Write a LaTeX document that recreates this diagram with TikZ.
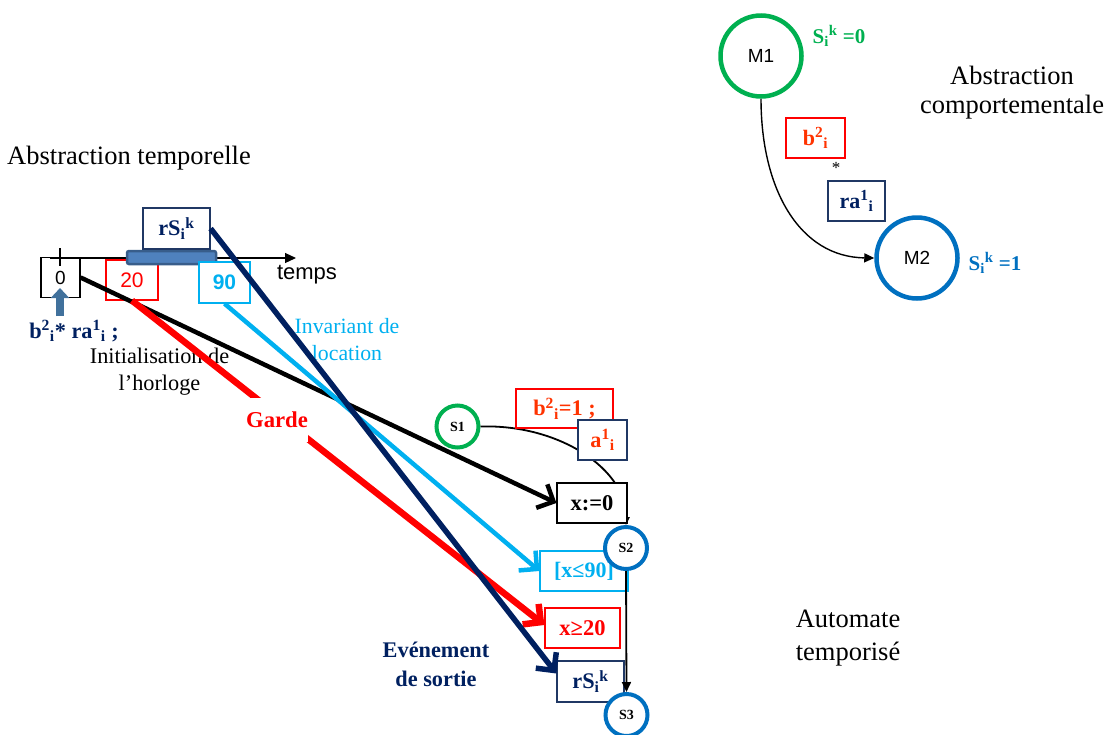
\documentclass[tikz,border=0pt]{standalone}
\usepackage{fontspec}
\setmainfont{Liberation Serif}
\setsansfont{Liberation Sans}
\usetikzlibrary{arrows.meta}
\definecolor{myred}{HTML}{FF0000}
\definecolor{orred}{HTML}{FF3300}
\definecolor{navy}{HTML}{002060}
\definecolor{boxnavy}{HTML}{203864}
\definecolor{lblue}{HTML}{00B0F0}
\definecolor{mygreen}{HTML}{00B050}
\definecolor{cblue}{HTML}{0070C0}
\definecolor{steelf}{HTML}{4F81BD}
\definecolor{steelb}{HTML}{385D8A}
\definecolor{steela}{HTML}{41719C}
\newcommand\fsz[2]{\fontsize{#1pt}{#2pt}\selectfont}
\newcommand\supb[2]{\textsuperscript{#1}\textsubscript{#2}}
\newcommand\subp[2]{\textsubscript{#1}\textsuperscript{#2}}
\tikzset{
  tbox/.style={draw, fill=white, line width=1.2pt, inner sep=0pt},
  bigcirc/.style={circle, draw, fill=white, line width=4.5pt, minimum size=81pt, inner sep=0pt, font=\sffamily\fsz{19}{22}},
  smallcirc/.style={circle, draw, fill=white, line width=4pt, minimum size=42pt, inner sep=0pt, font=\bfseries\fsz{14}{16}},
  thinarrow/.style={line width=1.4pt, -{Triangle[length=10pt,width=9pt]}},
  bigarrow/.style={-{Straight Barb[length=13pt,width=26pt]}},
  lbl/.style={font=\fsz{22.3}{27}, align=center, inner sep=0pt},
}
\begin{document}
\begin{tikzpicture}[x=1pt,y=-1pt]
\useasboundingbox (0,0) rectangle (1107,734);

% titles
\node[font=\fsz{26.5}{30}, inner sep=0pt] (at) at (129,158) {Abstraction temporelle};
\node[font=\fsz{26.5}{29}, align=center, inner sep=0pt] (ac) at (1012,93) {Abstraction\\comportementale};
\node[font=\fsz{26.5}{33}, align=center, inner sep=0pt] (atp) at (848,638) {Automate\\temporisé};

% behavioural abstraction
\node[bigcirc, draw=mygreen] (M1) at (761,56) {M1};
\node[bigcirc, draw=cblue] (M2) at (917,258) {M2};
\node[font=\bfseries\fsz{21}{24}, text=mygreen, inner sep=0pt] (s0) at (839,36) {S\subp{i}{k} =0};
\node[font=\bfseries\fsz{21}{24}, text=cblue, inner sep=0pt] (s1) at (995,263) {S\subp{i}{k} =1};
\draw[thinarrow] (M1.south) .. controls (761,190) and (800,257) .. (M2.west);
\node[tbox, draw=myred, minimum width=59pt, minimum height=40pt, font=\bfseries\fsz{22}{24}, text=orred] (bb) at (815.5,138) {b\supb{2}{i}};
\node[font=\fsz{17}{18}, inner sep=0pt] (star) at (836,168) {*};
\node[tbox, draw=boxnavy, minimum width=57pt, minimum height=40pt, font=\bfseries\fsz{22}{24}, text=navy] (ra) at (856.5,201) {ra\supb{1}{i}};

% time axis
\node[tbox, draw=black, fill=none, minimum width=39pt, minimum height=40pt, font=\sffamily\fsz{19}{22}] (b0) at (60.5,277.5) {0};
\coordinate (ax0) at (50,258);
\coordinate (ax1) at (296,258);
\draw[line width=1.2pt, -{Triangle[length=11pt,width=10pt]}] (ax0) -- (ax1);
\coordinate (tk0) at (60,248);
\coordinate (tk1) at (60,266);
\draw[line width=1.2pt] (tk0) -- (tk1);
\node[tbox, draw=myred, minimum width=52pt, minimum height=40pt, font=\sffamily\fsz{21}{24}, text=myred] (b20) at (132,280) {20};
\node[draw=steelb, fill=steelf, line width=2.5pt, rounded corners=2pt, minimum width=89pt, minimum height=13pt, inner sep=0pt] (bar) at (171.5,257.5) {};
\node[tbox, draw=boxnavy, minimum width=67pt, minimum height=41pt, font=\bfseries\fsz{22.3}{24}, text=navy] (rs) at (176.5,228.5) {rS\subp{i}{k}};
\node[tbox, draw=lblue, minimum width=51pt, minimum height=41pt, font=\sffamily\bfseries\fsz{21}{24}, text=lblue] (b90) at (224.5,282.5) {90};
\node[font=\sffamily\fsz{22}{25}, inner sep=0pt] (tps) at (307,275) {temps};
\coordinate (upb) at (60,316);
\coordinate (upt) at (60,288);
\draw[line width=8pt, steela, -{Triangle[length=10pt,width=18pt]}] (upb) -- (upt);
\node[font=\bfseries\fsz{22.3}{24}, text=navy, inner sep=0pt] (ev) at (74,331) {b\supb{2}{i}* ra\supb{1}{i} ;};
\node[lbl] (init) at (159.5,372) {Initialisation de\\l'horloge};
\node[lbl, text=lblue, font=\fsz{21.8}{27}] (inv) at (347,340) {Invariant de\\location};

% timed automaton
\node[tbox, draw=lblue, minimum width=88pt, minimum height=40pt, font=\bfseries\fsz{22}{24}, text=lblue] (xle) at (584,571) {[x≤90]};
\node[tbox, draw=myred, minimum width=75pt, minimum height=40pt, font=\bfseries\fsz{22.5}{24}, text=myred] (xge) at (582.5,628) {x≥20};
\node[tbox, draw=boxnavy, minimum width=67pt, minimum height=41pt, font=\bfseries\fsz{22.3}{24}, text=navy] (rs2) at (590.5,681.5) {rS\subp{i}{k}};
\node[smallcirc, draw=mygreen] (S1) at (457.5,426.5) {S1};
\node[smallcirc, draw=cblue] (S2) at (626,548) {S2};
\node[smallcirc, draw=cblue] (S3) at (626.5,715) {S3};
\draw[line width=1.8pt, -{Triangle[length=8pt,width=7pt]}] (S1.east) .. controls (560,424) and (627,470) .. (S2.north);
\node[tbox, draw=myred, minimum width=97pt, minimum height=39pt, font=\bfseries\fsz{22.3}{24}, text=orred] (g1) at (564.5,408.5) {b\supb{2}{i}=1 ;};
\node[tbox, draw=boxnavy, minimum width=49pt, minimum height=40pt, font=\bfseries\fsz{22.3}{24}, text=orred] (a1) at (602.5,440) {a\supb{1}{i}};
\node[tbox, draw=black, minimum width=70pt, minimum height=40pt, font=\bfseries\fsz{22.5}{24}] (x0) at (592,503) {x:=0};
\draw[thinarrow, line width=1.8pt] (S2.south) -- (S3.north);

% long arrows
\draw[line width=4.5pt, black, bigarrow] (b0.east) -- (x0.west);
\draw[line width=4.5pt, lblue, bigarrow] (b90.south) -- (xle.west);
\draw[line width=6.5pt, myred, bigarrow] (b20.south) -- ([yshift=3pt]xge.west);
\node[fill=white, font=\bfseries\fsz{22.7}{25}, text=myred, inner sep=0pt, minimum width=60pt, minimum height=44pt] (garde) at (277,420) {Garde};
\draw[line width=5.5pt, navy, bigarrow] (rs.east) -- ([yshift=8pt]rs2.west);
\node[font=\bfseries\fsz{22.3}{29}, text=navy, align=center, inner sep=0pt] (evs) at (436,664) {Evénement\\de sortie};
\end{tikzpicture}
\end{document}
